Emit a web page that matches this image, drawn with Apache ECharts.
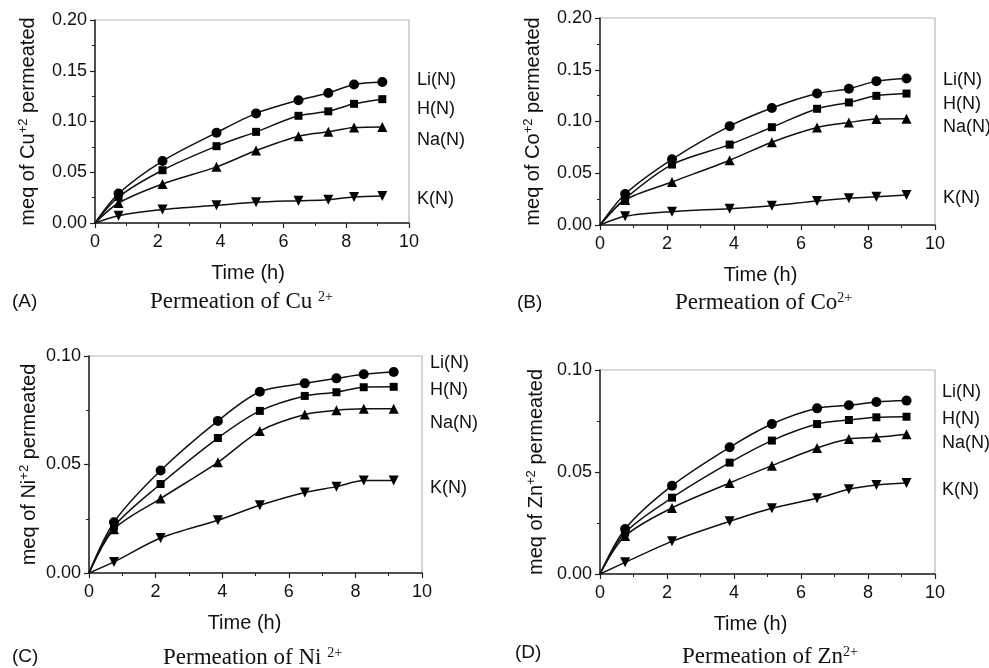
<!DOCTYPE html>
<html>
<head>
<meta charset="utf-8">
<script src="https://cdn.jsdelivr.net/npm/echarts@6/dist/echarts.min.js"></script>
<style>
  html, body { margin: 0; padding: 0; background: #fff; }
  #chart { width: 989px; height: 668px; }
</style>
</head>
<body>
<div id="chart"></div>
<script>
// sampling times (h), shared by all four panels
const times = [0, 0.75, 2.15, 3.87, 5.13, 6.48, 7.43, 8.25, 9.15];
const seriesNames = ['Li(N)', 'H(N)', 'Na(N)', 'K(N)'];

// (A) Cu2+
const cuLi = [0, 0.029, 0.061, 0.089, 0.108, 0.121, 0.128, 0.1365, 0.139];
const cuH = [0, 0.0257, 0.052, 0.0757, 0.0898, 0.1056, 0.110, 0.1174, 0.122];
const cuNa = [0, 0.0197, 0.0385, 0.0553, 0.0714, 0.0855, 0.090, 0.094, 0.0947];
const cuK = [0, 0.0072, 0.0132, 0.0174, 0.0204, 0.022, 0.023, 0.0257, 0.0266];

// (B) Co2+
const coLi = [0, 0.030, 0.0635, 0.0955, 0.113, 0.127, 0.1316, 0.139, 0.1416];
const coH = [0, 0.0255, 0.0584, 0.0777, 0.0945, 0.1123, 0.1184, 0.1248, 0.127];
const coNa = [0, 0.0242, 0.0416, 0.0626, 0.080, 0.0942, 0.099, 0.1023, 0.1026];
const coK = [0, 0.0084, 0.0129, 0.0158, 0.0187, 0.0232, 0.0258, 0.0274, 0.029];

// (C) Ni2+
const niLi = [0, 0.0234, 0.0472, 0.0701, 0.0835, 0.0874, 0.0897, 0.0916, 0.0926];
const niH = [0, 0.0214, 0.041, 0.0622, 0.0747, 0.0816, 0.0833, 0.0856, 0.0858];
const niNa = [0, 0.0202, 0.0343, 0.051, 0.0654, 0.073, 0.075, 0.0757, 0.0757];
const niK = [0, 0.0051, 0.0161, 0.0243, 0.0312, 0.0371, 0.0398, 0.0426, 0.0426];

// (D) Zn2+
const znLi = [0, 0.0221, 0.0433, 0.0621, 0.0735, 0.0812, 0.0827, 0.0843, 0.085];
const znH = [0, 0.0203, 0.0374, 0.0546, 0.0654, 0.0735, 0.0755, 0.0768, 0.0771];
const znNa = [0, 0.0186, 0.0324, 0.0446, 0.0531, 0.0618, 0.0662, 0.067, 0.0685];
const znK = [0, 0.0057, 0.016, 0.0258, 0.0322, 0.0371, 0.0415, 0.0436, 0.0446];

const xTicks = [0, 2, 4, 6, 8, 10];

const SANS = '"Liberation Sans", Arial, sans-serif';
const SERIF = '"Liberation Serif", "Times New Roman", serif';

const panels = [
    {ion: 'Cu', letter: '(A)', sub: 'Permeation of Cu {s|2+}', ymax: 0.20,
     grid: {left: 95, top: 20, width: 314, height: 203},
     data: [cuLi, cuH, cuNa, cuK],
     labelX: 417, labelY: [80, 109, 140, 199], yNameGap: 56,
     letterPos: [12, 302], subPos: [150, 302], xNameShift: 8},
    {ion: 'Co', letter: '(B)', sub: 'Permeation of Co{s|2+}', ymax: 0.20,
     grid: {left: 600, top: 18, width: 335, height: 207},
     data: [coLi, coH, coNa, coK],
     labelX: 943, labelY: [80, 104, 127, 198], yNameGap: 56,
     letterPos: [517, 303], subPos: [675, 303], xNameShift: 14},
    {ion: 'Ni', letter: '(C)', sub: 'Permeation of Ni {s|2+}', ymax: 0.10,
     grid: {left: 89, top: 356, width: 333, height: 217},
     data: [niLi, niH, niNa, niK],
     labelX: 430, labelY: [363, 390, 423, 488], yNameGap: 49,
     letterPos: [12, 657], subPos: [163, 658], xNameShift: 22},
    {ion: 'Zn', letter: '(D)', sub: 'Permeation of Zn{s|2+}', ymax: 0.10,
     grid: {left: 600, top: 370, width: 335, height: 204},
     data: [znLi, znH, znNa, znK],
     labelX: 942, labelY: [392, 419, 443, 490], yNameGap: 53,
     letterPos: [515, 653], subPos: [682, 657], xNameShift: 34}
];

const symbols = [
    {symbol: 'circle', rotate: 0, size: 10},
    {symbol: 'rect', rotate: 0, size: 8},
    {symbol: 'triangle', rotate: 0, size: 10},
    {symbol: 'triangle', rotate: 180, size: 10}
];

const grids = [];
const xAxes = [];
const yAxes = [];
const series = [];
const graphics = [];

panels.forEach((p, i) => {
    grids.push(Object.assign({
        show: true, borderColor: '#b8b8b8', borderWidth: 1.2,
        backgroundColor: 'transparent', containLabel: false
    }, p.grid));

    xAxes.push({
        type: 'value', gridIndex: i, min: 0, max: 10, interval: 2,
        name: 'Time (h)', nameLocation: 'middle', nameGap: 40,
        nameTextStyle: {fontFamily: SANS, fontSize: 20, color: '#111',
            padding: [0, p.xNameShift, 0, 0]},
        axisLine: {lineStyle: {color: '#222', width: 1.5}},
        axisTick: {show: true, inside: false, length: 5, lineStyle: {color: '#222', width: 1.2}},
        minorTick: {show: true, splitNumber: 2, length: 3, lineStyle: {color: '#222', width: 1}},
        axisLabel: {fontFamily: SANS, fontSize: 18, color: '#111', margin: 10,
            customValues: xTicks},
        splitLine: {show: false}
    });

    yAxes.push({
        type: 'value', gridIndex: i, min: 0, max: p.ymax, interval: 0.05,
        name: 'meq of ' + p.ion + '{s|+2} permeated',
        nameLocation: 'middle', nameGap: p.yNameGap, nameRotate: 90,
        nameTextStyle: {fontFamily: SANS, fontSize: 20, color: '#111',
            rich: {s: {fontFamily: SANS, fontSize: 13, color: '#111',
                verticalAlign: 'bottom', padding: [0, 0, 9, 0]}}},
        axisLine: {lineStyle: {color: '#222', width: 1.5}},
        axisTick: {show: true, inside: false, length: 5, lineStyle: {color: '#222', width: 1.2}},
        minorTick: {show: true, splitNumber: 2, length: 3, lineStyle: {color: '#222', width: 1}},
        axisLabel: {fontFamily: SANS, fontSize: 18, color: '#111', margin: 8,
            formatter: v => v.toFixed(2)},
        splitLine: {show: false}
    });

    p.data.forEach((vals, k) => {
        const sym = symbols[k];
        series.push({
            name: seriesNames[k] + ' ' + p.letter,
            type: 'line',
            xAxisIndex: i, yAxisIndex: i,
            smooth: 0.3,
            symbol: sym.symbol,
            symbolSize: sym.size,
            symbolRotate: sym.rotate,
            lineStyle: {color: '#111', width: 1.5},
            itemStyle: {color: '#000'},
            data: times.map((t, j) => j === 0
                ? {value: [t, vals[j]], symbol: 'none'}
                : [t, vals[j]])
        });
        graphics.push({
            type: 'text', x: p.labelX, y: p.labelY[k],
            style: {text: seriesNames[k], font: '18px ' + SANS, fill: '#111',
                verticalAlign: 'middle'}
        });
    });

    graphics.push({
        type: 'text', x: p.letterPos[0], y: p.letterPos[1],
        style: {text: p.letter, font: '19px ' + SANS, fill: '#111', verticalAlign: 'middle'}
    });
    graphics.push({
        type: 'text', x: p.subPos[0], y: p.subPos[1],
        style: {
            text: p.sub, font: '23px ' + SERIF, fill: '#111', verticalAlign: 'middle',
            rich: {s: {font: '14px ' + SERIF, fill: '#111',
                verticalAlign: 'bottom', padding: [0, 0, 10, 0]}}
        }
    });
});

const chart = echarts.init(document.getElementById('chart'));
chart.setOption({
    animation: false,
    backgroundColor: '#fff',
    grid: grids,
    xAxis: xAxes,
    yAxis: yAxes,
    series: series,
    graphic: graphics
});
</script>
</body>
</html>
